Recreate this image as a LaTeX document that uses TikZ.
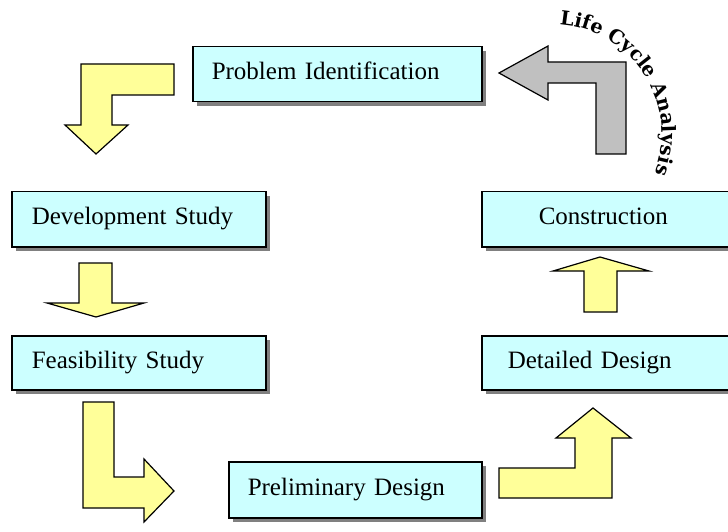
\documentclass[tikz,border=0pt]{standalone}
\usepackage{fontspec}
\setmainfont{Liberation Serif}
\newfontfamily\lcafont{DejaVu Serif}
\usetikzlibrary{shadows,decorations.text}
\definecolor{boxcyan}{HTML}{CCFFFF}
\definecolor{arrowyellow}{HTML}{FFFF99}
\definecolor{arrowgray}{HTML}{C0C0C0}
\definecolor{shadowgray}{HTML}{808080}
\newcommand\lcastyle{\lcafont\bfseries\fontsize{19.5}{22}\selectfont}
\begin{document}
\begin{tikzpicture}[x=1pt,y=1pt,
  box/.style={draw=black, line width=1.5pt, fill=boxcyan, anchor=north west,
    align=left, font=\fontsize{25}{30}\selectfont, text height=17pt, text depth=5.5pt,
    inner ysep=0pt,
    drop shadow={shadow xshift=4pt, shadow yshift=-4pt, fill=shadowgray, opacity=1}},
  blockarrow/.style={draw=black, line width=1.2pt, line join=miter},
  yarrow/.style={blockarrow, fill=arrowyellow},
  garrow/.style={blockarrow, fill=arrowgray}]
\useasboundingbox (0,0) rectangle (728,531);
\clip (0,0) rectangle (728,531);

% boxes
\node[box, minimum width=289pt, minimum height=55pt, text width=251pt, inner xsep=19pt] (pi) at (192,485) {Problem Identification};
\node[box, minimum width=254pt, minimum height=55pt, text width=214pt, inner xsep=20pt] (dev) at (11,340) {Development Study};
\node[box, minimum width=254pt, minimum height=54pt, text width=214pt, inner xsep=20pt] (feas) at (11,196) {Feasibility Study};
\node[box, minimum width=253pt, minimum height=56pt, text width=215pt, inner xsep=19pt] (prelim) at (228,70) {Preliminary Design};
\node[box, minimum width=254pt, minimum height=55pt, text width=140pt, inner xsep=57pt] (constr) at (481,340) {Construction};
\node[box, minimum width=254pt, minimum height=54pt, text width=202pt, inner xsep=26pt] (det) at (481,196) {Detailed Design};

% block arrows
\draw[yarrow] (174,467) -- (81,467) -- (81,406) -- (65,406) -- (96,377) -- (128,406) -- (112,406) -- (112,436) -- (174,436) -- cycle;
\draw[yarrow] (79,268) -- (112,268) -- (112,228) -- (144,228) -- (96,214) -- (47,228) -- (79,228) -- cycle;
\draw[yarrow] (83,129) -- (114,129) -- (114,54) -- (144,54) -- (144,72) -- (174,40) -- (144,9) -- (144,23) -- (83,23) -- cycle;
\draw[yarrow] (499,63) -- (575,63) -- (575,93) -- (556,93) -- (593,123) -- (631,93) -- (612,93) -- (612,33) -- (499,33) -- cycle;
\draw[yarrow] (584,219) -- (617,219) -- (617,260) -- (649,260) -- (600,274) -- (553,260) -- (584,260) -- cycle;
\draw[garrow] (626,377) -- (626,469) -- (548,469) -- (548,485) -- (499,458) -- (548,431) -- (548,448) -- (596,448) -- (596,377) -- cycle;

% curved label
\coordinate (lcacentre) at (552,397);
\path[decorate, decoration={text along path, text align=fit to path,
   text={|\lcastyle|Life Cycle Analysis}}]
  ([shift={(86:110)}]lcacentre) arc[start angle=86, end angle=-21, radius=110];
\end{tikzpicture}
\end{document}
